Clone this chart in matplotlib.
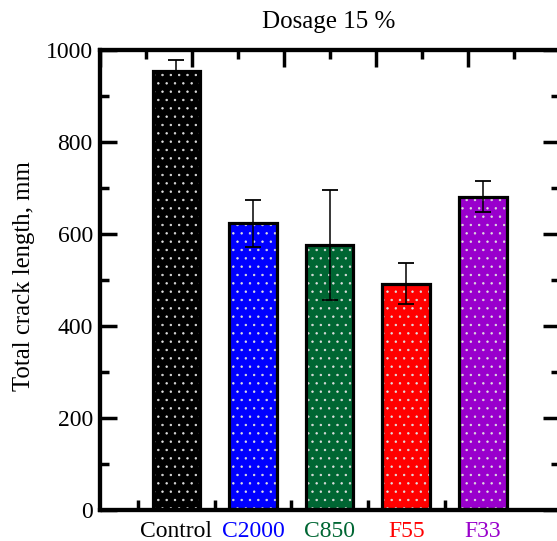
import matplotlib
matplotlib.use('Agg')
import matplotlib.pyplot as plt
import numpy as np

# data
groups = ['Control', 'C2000', 'C850', 'F55', 'F33']
crack_len = [955, 623, 576, 492, 681]
crack_err = [23, 51, 119, 45, 34]
bar_colors = ['#000000', '#0000ff', '#006633', '#ff0000', '#9900cc']
label_colors = ['#000000', '#0000ff', '#006633', '#ff0000', '#9900cc']

plt.rcParams['font.family'] = ['Liberation Serif', 'DejaVu Serif']
plt.rcParams['hatch.linewidth'] = 0.5

fig = plt.figure(figsize=(5.57, 5.41), dpi=100)
ax = fig.add_axes([99.7/557, 1-510/541, (559.5-99.7)/557, (510-50)/541])

x = np.arange(len(groups))
w = 0.62
# fill with light dot pattern, then black outline on top
ax.bar(x, crack_len, w, color=bar_colors, edgecolor='#e0e0e0', hatch='..', linewidth=0, zorder=2)
ax.bar(x, crack_len, w, fill=False, edgecolor='black', linewidth=2.3, zorder=3)
ax.errorbar(x, crack_len, yerr=crack_err, fmt='none', ecolor='black',
            elinewidth=1.1, capsize=5.8, capthick=1.3, zorder=4)

ax.set_xlim(-1, 5)
ax.set_ylim(0, 1000)

for s in ax.spines.values():
    s.set_linewidth(3)

# bottom: labels under bars, short ticks between bars
ax.set_xticks(x)
ax.set_xticklabels(groups, fontsize=17)
for t, c in zip(ax.get_xticklabels(), label_colors):
    t.set_color(c)
ax.set_xticks(x - 0.5, minor=True)
ax.tick_params(axis='x', which='major', length=0, pad=8)
ax.tick_params(axis='x', which='minor', direction='in', length=7, width=2.5)

ax.set_yticks(np.arange(0, 1001, 200))
ax.set_yticks(np.arange(100, 1000, 200), minor=True)
ax.tick_params(axis='y', which='both', direction='in', right=True, width=2.5, labelsize=17, pad=5)
ax.tick_params(axis='y', which='major', length=12)
ax.tick_params(axis='y', which='minor', length=6.5)

# top axis has its own tick grid
top = ax.twiny()
top.set_xlim(0, 10)
top.set_xticks(np.arange(0, 11, 2))
top.set_xticks(np.arange(1, 10, 2), minor=True)
top.tick_params(axis='x', which='both', direction='in', width=2.5, labeltop=False)
top.tick_params(axis='x', which='major', length=12)
top.tick_params(axis='x', which='minor', length=6.5)
for s in top.spines.values():
    s.set_linewidth(3)

fig.text(329/557, 1-28/541, 'Dosage 15 %', fontsize=18, ha='center', va='baseline')
fig.text(24/557, 1-276/541, 'Total crack length, mm', fontsize=17.8, rotation=90,
         ha='center', va='center')

plt.savefig('out.png', dpi=100)
